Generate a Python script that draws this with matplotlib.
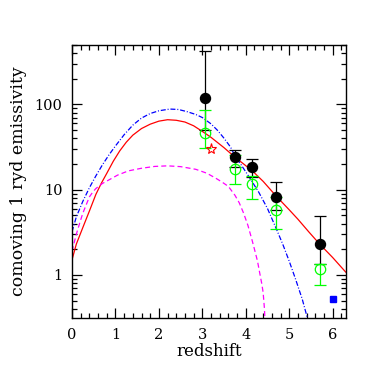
import matplotlib
matplotlib.use("Agg")
import matplotlib.pyplot as plt
import numpy as np
from matplotlib.ticker import FixedLocator, FixedFormatter, LogLocator, NullFormatter, MultipleLocator

# ---- data ----
# solid red model curve
red_z = [0, 0.1, 0.25, 0.4, 0.55, 0.68, 0.8, 0.95, 1.1, 1.25, 1.4, 1.6, 1.8, 2.0, 2.2,
         2.4, 2.6, 2.8, 2.95, 3.1, 3.2, 3.5, 3.75, 3.95, 4.15, 4.4, 4.7, 5.0, 5.2,
         5.45, 5.7, 6.0, 6.3]
red_y = [1.5, 2.3, 3.6, 5.6, 8.8, 12, 15.5, 21.5, 28.5, 36, 43.5, 52, 58.5, 63.5, 66,
         65, 62, 56, 50, 44.5, 41, 31, 24, 20, 16.6, 12.5, 8.4, 5.8, 4.5,
         3.2, 2.3, 1.6, 1.08]
# blue dash-dot curve
blue_z = [0, 0.1, 0.25, 0.4, 0.55, 0.7, 0.85, 1.0, 1.2, 1.4, 1.6, 1.8, 2.0, 2.25,
          2.45, 2.65, 2.85, 3.0, 3.2, 3.35, 3.5, 3.65, 3.75, 3.9, 4.1, 4.3,
          4.5, 4.7, 4.85, 5.0, 5.15, 5.3, 5.42]
blue_y = [3.2, 4.8, 7.3, 10.5, 14.5, 19.5, 25.5, 32.5, 44, 57, 69, 78, 84, 88,
          87, 82, 76, 70, 59, 49.5, 40, 31.5, 25, 19.3, 13.5, 9.3,
          6.0, 3.5, 2.3, 1.45, 0.88, 0.52, 0.31]
# magenta dashed curve
mag_z = [0, 0.1, 0.18, 0.25, 0.33, 0.4, 0.48, 0.55, 0.7, 0.85, 1.05, 1.3, 1.6, 1.9,
         2.2, 2.5, 2.85, 3.1, 3.3, 3.45, 3.6, 3.75, 3.85, 3.95, 4.05, 4.15, 4.2,
         4.27, 4.32, 4.37, 4.4, 4.43, 4.44]
mag_y = [1.9, 3.0, 4.1, 5.3, 6.7, 8.2, 9.4, 10.3, 11.8, 13, 14.8, 16.6, 17.8, 18.7,
         19, 18.6, 17.3, 15.6, 13.7, 12.3, 10.9, 8.6, 7.0, 5.3, 3.8, 2.5, 2.0,
         1.45, 1.06, 0.78, 0.62, 0.4, 0.31]

# black filled points with error bars
blk_z = [3.05, 3.75, 4.15, 4.7, 5.7]
blk_y = [119, 24, 18.3, 8.3, 2.32]
blk_hi = [424, 29.4, 23.1, 12.2, 4.85]
blk_lo = [50, 18.4, 14.1, 5.7, 1.33]

# green open points with error bars
grn_z = [3.05, 3.75, 4.15, 4.7, 5.7]
grn_y = [46, 17.5, 11.7, 5.7, 1.18]
grn_hi = [86, 25.5, 14.5, 8.2, 1.36]
grn_lo = [31, 11.7, 7.8, 3.5, 0.77]

star_z, star_y = [3.21], [29.8]
sq_z, sq_y = [6.0], [0.52]

yticks = [1, 10, 100]
yticklabels = ["1", "10", "100"]

plt.rcParams['font.family'] = ['DejaVu Serif']
fig = plt.figure(figsize=(3.9, 3.9), dpi=100)
ax = fig.add_axes([0.1846, 0.1838, 0.7018, 0.7016])

ax.plot(red_z, red_y, color='#ff0000', lw=0.9, zorder=2)
ax.plot(blue_z, blue_y, color='#0000ff', lw=0.9, zorder=2,
        dashes=[4, 1.5, 0.8, 1.5])
ax.plot(mag_z, mag_y, color='#ff00ff', lw=0.9, zorder=2, dashes=[4, 2.5])

def errs(y, lo, hi):
    y = np.array(y); lo = np.array(lo); hi = np.array(hi)
    return [y - lo, hi - y]

ax.errorbar(blk_z, blk_y, yerr=errs(blk_y, blk_lo, blk_hi), fmt='none',
            ecolor='black', elinewidth=0.9, capsize=4, capthick=0.9, zorder=3)
ax.errorbar(grn_z, grn_y, yerr=errs(grn_y, grn_lo, grn_hi), fmt='o',
            color='#00ff00', mfc='none', mec='#00ff00', ms=7.5, mew=0.9,
            ecolor='#00ff00', elinewidth=0.9, capsize=4, capthick=0.9, zorder=4)
ax.plot(blk_z, blk_y, 'o', color='black', ms=7.2, zorder=5)
ax.plot(star_z, star_y, '*', mfc='none', mec='#ff0000', ms=8, mew=0.8, zorder=5)
ax.plot(sq_z, sq_y, 's', color='#0000ff', ms=4.8, zorder=5)

ax.set_yscale('log')
ax.set_xlim(0, 6.3)
ax.set_ylim(0.31, 500)

ax.xaxis.set_major_locator(MultipleLocator(1))
ax.xaxis.set_minor_locator(MultipleLocator(0.2))
ax.yaxis.set_major_locator(FixedLocator(yticks))
ax.yaxis.set_major_formatter(FixedFormatter(yticklabels))
ax.yaxis.set_minor_locator(LogLocator(base=10, subs=np.arange(2, 10)))
ax.yaxis.set_minor_formatter(NullFormatter())

ax.tick_params(which='both', direction='in', top=True, right=True, width=0.9,
               labelsize=10.5, pad=7)
ax.tick_params(which='major', length=7)
ax.tick_params(which='minor', length=3.5)
for s in ax.spines.values():
    s.set_linewidth(1.0)

ax.set_xlabel('redshift', fontsize=12, labelpad=1)
ax.set_ylabel('comoving 1 ryd emissivity', fontsize=12.5, labelpad=5)

fig.savefig('out.png', dpi=100)
